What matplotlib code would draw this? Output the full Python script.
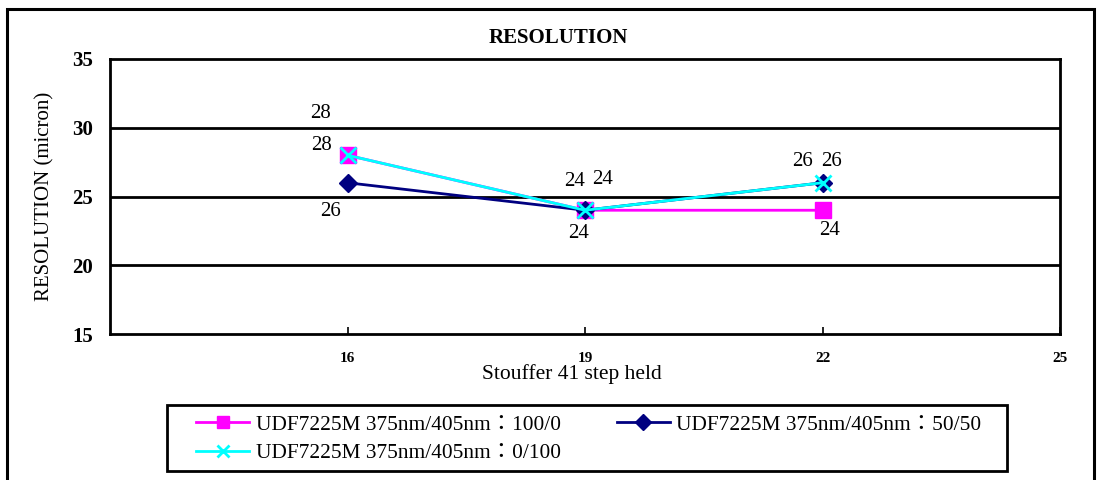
import matplotlib
matplotlib.use("Agg")
import matplotlib.pyplot as plt
from matplotlib.patches import Rectangle

x_steps = [16, 19, 22]
s_100_0 = [28, 24, 24]
s_50_50 = [26, 24, 26]
s_0_100 = [28, 24, 26]
names = ["UDF7225M 375nm/405nm：100/0",
         "UDF7225M 375nm/405nm：50/50",
         "UDF7225M 375nm/405nm：0/100"]
xticks = [16, 19, 22, 25]
yticks = [15, 20, 25, 30, 35]

SERIF = ["Liberation Serif", "Noto Sans CJK JP"]
plt.rcParams['font.family'] = SERIF

W, H = 1101, 480
fig = plt.figure(figsize=(W / 100, H / 100), dpi=100)
ax = fig.add_axes([110 / W, 1 - 334 / H, (1060 - 110) / W, (334 - 59) / H])

# outer border
fig.patches.append(Rectangle((7 / W, -0.1), (1094 - 7) / W, 1.1 - 9 / H,
                             transform=fig.transFigure, fill=False,
                             edgecolor='black', linewidth=2.2, zorder=0))
# legend frame
fig.patches.append(Rectangle((167 / W, 1 - 471 / H), (1007 - 167) / W, (471 - 405) / H,
                             transform=fig.transFigure, fill=False,
                             edgecolor='black', linewidth=2, zorder=0))

ax.set_xlim(13, 25)
ax.set_ylim(15, 35)
for yv in [20, 25, 30]:
    ax.axhline(yv, color='black', linewidth=2, zorder=1)

series = [
    (s_100_0, '#ff00ff', 's', 11, [(-26, -10), (-6, 23), (7, 20)]),
    (s_50_50, '#000080', 'D', 9, [(-17, 29), (-10, -29), (-20, -21)]),
    (s_0_100, '#00ffff', 'x', 11, [(-27, -42), (18, -31), (9, -21)]),
]
handles = []
for vals, col, mk, ms, offs in series:
    h, = ax.plot(x_steps, vals, color=col, marker=mk, markersize=ms,
                 linewidth=2, markeredgewidth=2 if mk == 'x' else 1,
                 markeredgecolor=col, zorder=3, clip_on=False)
    handles.append(h)
    for xv, yv, (dx, dy) in zip(x_steps, vals, offs):
        ax.annotate(str(yv), (xv, yv), xytext=(dx * 0.72, -dy * 0.72),
                    textcoords='offset points', ha='center', va='center',
                    fontsize=15)

for sp in ax.spines.values():
    sp.set_linewidth(2)
ax.set_yticks(yticks)
ax.set_yticklabels([str(v) for v in yticks], fontsize=15, fontweight='bold')
ax.tick_params(axis='y', length=0, pad=12)
ax.set_xticks(xticks)
ax.set_xticklabels([str(v) for v in xticks], fontsize=11, fontweight='bold')
ax.tick_params(axis='x', length=5, width=1.2, pad=13, direction='in')

ax.set_title("RESOLUTION", fontsize=15, fontweight='bold', x=0.4716, y=1.058, pad=0)
ax.set_xlabel("Stouffer 41 step held", fontsize=15.5)
ax.xaxis.set_label_coords(0.486, -0.108)
ax.set_ylabel("RESOLUTION (micron)", fontsize=15)
ax.yaxis.set_label_coords(-0.058, 0.5)

order = [0, 2, 1]
leg = fig.legend([handles[i] for i in order], [names[i] for i in order],
                 ncol=2, loc='upper left',
                 bbox_to_anchor=(196 / W, 1 - 415 / H), frameon=False,
                 fontsize=15.4, borderaxespad=0, borderpad=0,
                 handlelength=2.5, columnspacing=2.6,
                 labelspacing=0.4, handletextpad=0.3, markerscale=0.85)

fig.savefig("out.png", dpi=100)
